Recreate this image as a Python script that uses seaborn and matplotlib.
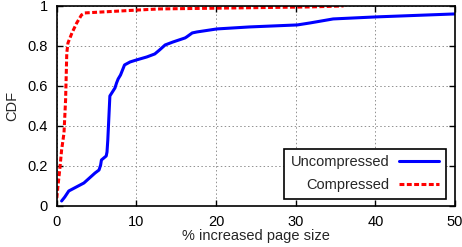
import pandas as pd
import matplotlib.pyplot as plt
import seaborn as sns

# CDF points
uncomp_x = [0.6, 1.0, 1.5, 3.4, 4.1, 4.8, 5.3, 5.5, 5.6, 6.2, 6.3, 6.4, 6.66, 6.9, 7.3, 7.5, 7.7, 8.0, 8.5,
            9.2, 10.0, 11.3, 12.3, 12.9, 13.6, 14.6, 16.1, 16.3, 17.0, 17.6, 20.1, 24.2, 30.2, 31.8, 34.7, 40.0, 50.0]
uncomp_y = [0.025, 0.045, 0.075, 0.115, 0.14, 0.165, 0.18, 0.205, 0.23, 0.25, 0.27, 0.33, 0.55, 0.565, 0.59, 0.615, 0.635, 0.655, 0.705,
            0.72, 0.73, 0.745, 0.76, 0.78, 0.805, 0.82, 0.84, 0.845, 0.865, 0.87, 0.885, 0.895, 0.905, 0.915, 0.935, 0.945, 0.96]
comp_x = [0.0, 0.13, 0.4, 0.6, 0.9, 1.1, 1.25, 1.4, 1.9, 2.5, 3.1, 3.5, 10.4, 12.9, 31.8, 36.0]
comp_y = [0.04, 0.095, 0.195, 0.28, 0.365, 0.53, 0.765, 0.815, 0.865, 0.915, 0.955, 0.965, 0.98, 0.985, 0.995, 1.0]

df = pd.concat([
    pd.DataFrame({'x': uncomp_x, 'y': uncomp_y, 'series': 'Uncompressed'}),
    pd.DataFrame({'x': comp_x, 'y': comp_y, 'series': 'Compressed'}),
])

sns.set_style("ticks")
plt.rcParams['font.family'] = ['Liberation Sans', 'DejaVu Sans']
fs = 10.5

fig = plt.figure(figsize=(4.62, 2.47), dpi=100)
ax = fig.add_axes([0.123, 0.166, 0.862, 0.81])

sns.lineplot(data=df, x='x', y='y', hue='series', style='series',
             palette={'Uncompressed': '#0000ff', 'Compressed': '#ff0000'},
             dashes={'Uncompressed': '', 'Compressed': (1.6, 0.8)},
             linewidth=2.2, sort=False, estimator=None, ax=ax)

ax.set_xlim(0, 50)
ax.set_ylim(0, 1)
ax.set_xticks([0, 10, 20, 30, 40, 50])
ax.set_yticks([0, 0.2, 0.4, 0.6, 0.8, 1])
ax.set_yticklabels(['0', '0.2', '0.4', '0.6', '0.8', '1'])
ax.grid(True, linestyle=(0, (1.5, 2.5)), color='#909090', linewidth=0.7)
ax.tick_params(direction='in', top=True, right=True, length=4, width=1, colors='black',
               labelsize=fs, pad=6.5)
for s in ax.spines.values():
    s.set_linewidth(1.2)
    s.set_color('black')

ax.set_xlabel('% increased page size', fontsize=fs, labelpad=0)
ax.set_ylabel('CDF', fontsize=fs, labelpad=6)

leg = ax.legend(loc='lower right', markerfirst=False, frameon=True, fancybox=False,
                edgecolor='black', framealpha=1, fontsize=fs, handlelength=2.8,
                handletextpad=0.6, borderpad=0.45, labelspacing=0.62,
                borderaxespad=0, bbox_to_anchor=(0.977, 0.035))
leg.get_frame().set_linewidth(1.2)
for t in leg.get_texts():
    t.set_ha('right')

fig.savefig('out.png', dpi=100)
